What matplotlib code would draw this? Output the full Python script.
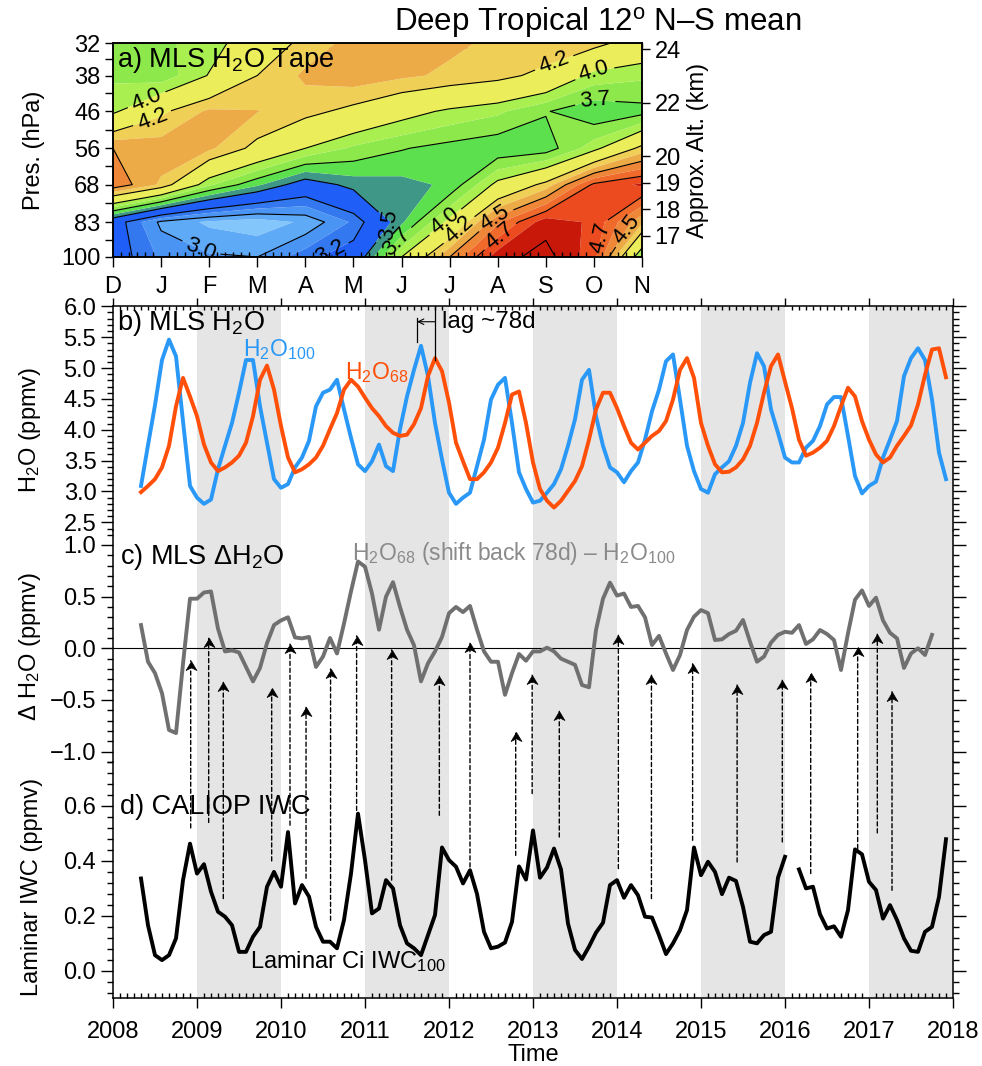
import numpy as np
import matplotlib
matplotlib.use('Agg')
import matplotlib.pyplot as plt
from matplotlib.patches import ConnectionPatch
from matplotlib.path import Path
from matplotlib.ticker import MultipleLocator, FixedLocator, NullLocator, NullFormatter, FuncFormatter

plt.rcParams['font.family'] = ['Liberation Sans', 'DejaVu Sans']
plt.rcParams['mathtext.fontset'] = 'custom'
plt.rcParams['mathtext.rm'] = 'Liberation Sans'
plt.rcParams['mathtext.it'] = 'Liberation Sans:italic'
plt.rcParams['mathtext.default'] = 'regular'

# === a) tape recorder: monthly climatology (ppmv) ===
month_labels = ['D', 'J', 'F', 'M', 'A', 'M', 'J', 'J', 'A', 'S', 'O', 'N']
pres_levels = [100, 83, 68, 56, 46, 38, 32]
tape_100 = [3.35, 3.10, 3.02, 3.00, 3.20, 3.35, 4.00, 4.50, 4.95, 5.05, 4.80, 3.85]
tape_83 = [3.35, 2.97, 2.85, 2.80, 2.90, 3.15, 3.60, 4.05, 4.60, 4.95, 4.85, 4.40]
tape_68 = [4.60, 4.35, 3.90, 3.65, 3.40, 3.55, 3.58, 3.65, 4.05, 4.30, 4.78, 4.90]
tape_56 = [4.50, 4.45, 4.40, 4.20, 4.00, 3.85, 3.76, 3.70, 3.65, 3.68, 3.95, 4.30]
tape_46 = [3.97, 4.22, 4.40, 4.38, 4.30, 4.20, 4.07, 3.97, 3.90, 3.76, 3.65, 3.70]
tape_38 = [3.85, 3.80, 4.01, 4.25, 4.40, 4.45, 4.40, 4.35, 4.30, 4.20, 3.95, 3.90]
tape_32 = [3.80, 3.85, 3.93, 4.12, 4.30, 4.42, 4.42, 4.40, 4.35, 4.35, 4.30, 4.15]
alt_km = [17, 18, 19, 20, 22, 24]
scale_height = 7.04  # km, for the approximate altitude axis

fill_levels = [2.5, 2.875, 3.0, 3.125, 3.25, 3.5, 3.625, 3.75, 3.875, 4.0,
               4.25, 4.375, 4.5, 4.625, 4.75, 4.875, 5.5]
fill_colors = ['#82c6fb', '#5eaaf7', '#4a94f3', '#3478f0', '#1f5ff7', '#3f9787',
               '#5de04d', '#8de84b', '#a8ef4f', '#ebee5a', '#efcf55', '#ecab47',
               '#ee8838', '#ef6a2b', '#ec4b1f', '#c8180a']
line_levels = [3.0, 3.25, 3.5, 3.75, 4.0, 4.25, 4.5, 4.75, 5.0]
# where the contour labels sit (month index, hPa)
label_month = [0.73, 0.83, 1.81, 4.45, 5.8, 5.86, 6.97, 7.26, 7.94, 7.98, 10.06, 10.54, 9.19, 10.0, 10.02]
label_pres = [44.0, 48.2, 96.9, 94.0, 85.7, 91.3, 84.3, 88.0, 81.2, 87.5, 89.9, 84.3, 35.9, 36.9, 43.8]

# === b-d) monthly series, May 2008 .. Dec 2017 ===
first_month = 4  # months after Jan 2008
h2o_100 = [3.09, 3.75, 4.40, 5.13, 5.46, 5.19, 4.14, 3.09,
           2.90, 2.80, 2.87, 3.36, 3.74, 4.11, 4.60, 5.13, 5.13, 4.38, 3.79, 3.20,
           3.06, 3.12, 3.39, 3.55, 3.82, 4.38, 4.60, 4.65, 4.81, 4.33, 3.87, 3.44,
           3.33, 3.49, 3.76, 3.41, 3.33, 4.01, 4.54, 4.97, 5.36, 4.87, 4.11, 3.52,
           2.98, 2.80, 2.90, 2.98, 3.41, 3.84, 4.49, 4.73, 4.84, 4.11, 3.31, 3.04,
           2.82, 2.85, 2.98, 3.12, 3.36, 3.74, 4.17, 4.81, 4.97, 4.22, 3.74, 3.39,
           3.31, 3.15, 3.33, 3.47, 3.84, 4.30, 4.65, 5.11, 5.22, 4.49, 3.74, 3.33,
           3.04, 2.98, 3.28, 3.39, 3.49, 3.74, 4.11, 4.76, 5.24, 5.03, 4.33, 3.95,
           3.55, 3.47, 3.47, 3.71, 3.82, 4.06, 4.41, 4.53, 4.53, 3.90, 3.25, 2.97,
           3.09, 3.16, 3.55, 3.84, 4.14, 4.87, 5.16, 5.32, 5.13, 4.49, 3.63, 3.20]
h2o_68 = [2.99, 3.09, 3.20, 3.39, 3.74, 4.38, 4.84, 4.54,
          4.22, 3.76, 3.47, 3.33, 3.39, 3.47, 3.58, 3.79, 4.22, 4.81, 5.04, 4.65,
          4.06, 3.55, 3.31, 3.36, 3.44, 3.55, 3.74, 4.01, 4.27, 4.65, 4.81, 4.70,
          4.52, 4.35, 4.22, 4.06, 3.95, 3.90, 3.92, 4.09, 4.35, 4.87, 5.16, 4.95,
          4.44, 3.79, 3.49, 3.20, 3.20, 3.31, 3.47, 3.71, 4.11, 4.57, 4.62, 4.11,
          3.47, 3.04, 2.85, 2.74, 2.85, 3.01, 3.17, 3.41, 3.84, 4.33, 4.60, 4.60,
          4.35, 4.06, 3.79, 3.68, 3.79, 3.90, 3.98, 4.14, 4.49, 4.97, 5.16, 4.84,
          4.11, 3.74, 3.44, 3.31, 3.32, 3.39, 3.52, 3.74, 4.11, 4.60, 5.03, 5.22,
          4.78, 4.35, 3.84, 3.58, 3.63, 3.71, 3.82, 4.06, 4.38, 4.68, 4.54, 4.14,
          3.84, 3.60, 3.47, 3.55, 3.74, 3.90, 4.07, 4.41, 4.89, 5.30, 5.32, 4.85]
dh2o = [0.225, -0.13, -0.24, -0.435, -0.79, -0.82, -0.15, 0.48,
        0.48, 0.54, 0.55, 0.19, -0.03, -0.02, -0.04, -0.18, -0.32, -0.19, 0.05, 0.225,
        0.27, 0.30, 0.105, 0.096, 0.11, -0.18, -0.08, 0.10, -0.05, 0.24, 0.55, 0.84,
        0.79, 0.53, 0.18, 0.50, 0.64, 0.40, 0.18, 0.03, -0.32, -0.145, -0.03, 0.11,
        0.34, 0.40, 0.35, 0.41, 0.18, -0.03, -0.13, -0.13, -0.45, -0.24, -0.055, -0.12,
        -0.03, -0.03, 0.006, -0.03, -0.10, -0.13, -0.16, -0.355, -0.377, 0.177, 0.48, 0.635,
        0.51, 0.53, 0.40, 0.41, 0.30, 0.032, 0.12, -0.05, -0.21, -0.065, 0.177, 0.306,
        0.37, 0.34, 0.08, 0.087, 0.138, 0.17, 0.274, 0.064, -0.13, -0.08, 0.055, 0.13,
        0.16, 0.15, 0.225, 0.042, 0.087, 0.177, 0.138, 0.08, -0.21, 0.145, 0.47, 0.56,
        0.41, 0.49, 0.27, 0.15, 0.096, -0.19, -0.05, 0.0, -0.065, 0.13]
iwc = [0.336, 0.166, 0.057, 0.039, 0.057, 0.118, 0.33, 0.463,
       0.354, 0.388, 0.288, 0.215, 0.197, 0.166, 0.069, 0.069, 0.124, 0.160, 0.306, 0.36,
       0.306, 0.505, 0.245, 0.312, 0.27, 0.16, 0.106, 0.106, 0.082, 0.185, 0.354, 0.572,
       0.403, 0.209, 0.227, 0.33, 0.30, 0.166, 0.10, 0.082, 0.057, 0.13, 0.203, 0.449,
       0.403, 0.379, 0.318, 0.366, 0.28, 0.142, 0.082, 0.088, 0.103, 0.178, 0.38, 0.332,
       0.511, 0.339, 0.376, 0.445, 0.369, 0.172, 0.076, 0.043, 0.088, 0.139, 0.175, 0.312,
       0.33, 0.266, 0.312, 0.275, 0.197, 0.194, 0.130, 0.061, 0.1, 0.148, 0.221, 0.449,
       0.348, 0.397, 0.36, 0.279, 0.339, 0.327, 0.233, 0.106, 0.1, 0.13, 0.142, 0.339,
       0.415, np.nan, 0.369, 0.3, 0.306, 0.206, 0.154, 0.162, 0.124, 0.221, 0.442, 0.424,
       0.324, 0.294, 0.19, 0.239, 0.185, 0.118, 0.073, 0.069, 0.142, 0.160, 0.269, 0.479]

# dashed arrows: time, arrow tip (delta H2O, ppmv), line base (IWC, ppmv)
arrow_time = [2008.925, 2009.139, 2009.313, 2009.889, 2010.107, 2010.298, 2010.59,
              2010.90, 2011.317, 2011.885, 2012.25, 2012.794, 2012.99, 2013.313,
              2014.016, 2014.41, 2014.90, 2015.43, 2015.968, 2016.306, 2016.865,
              2017.099, 2017.274]
arrow_tip = [-0.12, 0.097, -0.33, -0.387, 0.04, -0.565, -0.2, 0.12, -0.016, -0.27,
             0.048, -0.81, -0.26, -0.61, 0.13, -0.26, -0.15, -0.355, -0.31, -0.24,
             0.01, 0.138, -0.42]
arrow_base = [0.52, 0.54, 0.263, 0.40, 0.53, 0.337, 0.184, 0.584, 0.33, 0.566, 0.378,
              0.42, 0.645, 0.487, 0.372, 0.263, 0.475, 0.396, 0.469, 0.354, 0.445,
              0.502, 0.293]

lag_days = 78
lag_peak = 2011.833  # H2O_68 peak used to mark the lag
shade_years = [2009, 2011, 2013, 2015, 2017]

blue = '#2a98f7'
orange = '#ff4f08'
grey = '#707070'
fs = 17      # tick labels / axis titles
fs_panel = 19.5

fig = plt.figure(figsize=(9.82, 10.66), dpi=100)
W, H = 982.0, 1066.0


def box(x0, y0, x1, y1):
    return [x0 / W, 1 - y1 / H, (x1 - x0) / W, (y1 - y0) / H]


def minus_fmt(v, pos):
    return f'{v:.1f}'.replace('-', '\u2212')


ax_a = fig.add_axes(box(113, 43.3, 642, 257))
ax_b = fig.add_axes(box(113, 306.3, 953, 531))
ax_c = fig.add_axes(box(113, 531, 953, 762))
ax_d = fig.add_axes(box(113, 762, 953, 998.3))

# --- panel a ---
tape = np.array([tape_100, tape_83, tape_68, tape_56, tape_46, tape_38, tape_32])
mx = np.arange(len(month_labels))
ax_a.contourf(mx, pres_levels, tape, levels=fill_levels, colors=fill_colors, antialiased=True)
cs = ax_a.contour(mx, pres_levels, tape, levels=line_levels, colors='k', linewidths=0.8)
ax_a.set_yscale('log')
ax_a.set_ylim(100, 32)
ax_a.set_xlim(0, 11)
ax_a.clabel(cs, fmt=lambda v: f'{np.floor(v * 10 + 1e-6) / 10:.1f}', fontsize=16, inline=True,
            manual=list(zip(label_month, label_pres)))
ax_a.set_yticks(pres_levels)
ax_a.set_yticklabels([str(p) for p in pres_levels])
ax_a.yaxis.set_minor_locator(FixedLocator(np.sqrt(np.array(pres_levels[:-1]) * np.array(pres_levels[1:]))))
ax_a.yaxis.set_minor_formatter(NullFormatter())
ax_a.set_xticks(mx)
ax_a.set_xticklabels(month_labels)
ax_a.xaxis.set_minor_locator(MultipleLocator(1 / 6))
ax_a.tick_params(axis='x', which='major', direction='out', length=7, width=1, top=False, labelsize=fs, pad=7)
ax_a.tick_params(axis='x', which='minor', direction='in', length=3.5, width=1, top=False)
ax_a.tick_params(axis='y', which='major', direction='out', length=6, width=1, labelsize=fs, pad=3)
ax_a.tick_params(axis='y', which='minor', direction='out', length=6, width=1)
sec = ax_a.secondary_xaxis('top')
sec.set_xticks(mx)
sec.xaxis.set_minor_locator(MultipleLocator(1 / 6))
sec.xaxis.set_major_formatter(NullFormatter())
sec.tick_params(axis='x', which='both', direction='in', length=3.5, width=1)
ax_a.set_ylabel('Pres. (hPa)', fontsize=fs)
ax_a.yaxis.set_label_coords(-0.128, 0.5)
ax_a.text(0.008, 0.922, r'a) MLS H$_2$O Tape', transform=ax_a.transAxes, fontsize=fs_panel, va='center', ha='left')

ax_alt = ax_a.twinx()
ax_alt.set_yscale('log')
ax_alt.set_ylim(100, 32)
ax_alt.set_yticks(1000 * np.exp(-np.array(alt_km) / scale_height))
ax_alt.set_yticklabels([str(z) for z in alt_km])
ax_alt.yaxis.set_minor_locator(NullLocator())
ax_alt.tick_params(axis='y', direction='out', length=6, width=1, labelsize=fs, pad=3)
ax_alt.set_ylabel('Approx. Alt. (km)', fontsize=fs)
ax_alt.yaxis.set_label_coords(1.085, 0.5)

for ax in (ax_a, ax_alt):
    for s in ax.spines.values():
        s.set_linewidth(1.1)

# --- panels b, c, d ---
t = 2008 + (first_month + np.arange(len(h2o_100))) / 12.0
t_d = 2008 + (first_month + np.arange(len(dh2o))) / 12.0

for ax in (ax_b, ax_c, ax_d):
    for y in shade_years:
        ax.axvspan(y, y + 1, color='#e5e5e5', lw=0, zorder=0)
    ax.set_xlim(2008, 2018)
    ax.xaxis.set_major_locator(MultipleLocator(1))
    ax.xaxis.set_minor_locator(MultipleLocator(1 / 12))
    ax.tick_params(axis='y', which='major', direction='out', length=9, width=1,
                   left=True, right=True, labelsize=fs, pad=3)
    ax.tick_params(axis='y', which='minor', direction='out', length=4.5, width=1, left=True, right=True)
    for s in ax.spines.values():
        s.set_linewidth(1.1)
    ax.yaxis.set_major_formatter(FuncFormatter(minus_fmt))

ax_b.spines['bottom'].set_visible(False)
ax_c.spines['top'].set_visible(False)
ax_c.spines['bottom'].set_visible(False)
ax_d.spines['top'].set_visible(False)

ax_b.xaxis.set_ticks_position('top')
ax_b.tick_params(axis='x', which='major', direction='out', length=6, width=1, labeltop=False, labelbottom=False)
ax_b.tick_params(axis='x', which='minor', direction='in', length=3, width=1)
ax_c.tick_params(axis='x', which='both', bottom=False, top=False, labelbottom=False)
ax_d.tick_params(axis='x', which='major', direction='out', length=7, width=1, top=False, labelsize=fs, pad=9.5)
ax_d.tick_params(axis='x', which='minor', direction='in', length=3.5, width=1, top=False)
ax_d.xaxis.set_major_formatter(FuncFormatter(lambda v, p: f'{v:.0f}'))

# b) H2O
ax_b.plot(t, h2o_100, color=blue, lw=2.8, zorder=3)
ax_b.plot(t, h2o_68, color=orange, lw=2.8, zorder=3)
ax_b.set_ylim(2.36, 6.0)
ax_b.yaxis.set_major_locator(MultipleLocator(0.5))
ax_b.yaxis.set_minor_locator(MultipleLocator(0.1))
ax_b.set_ylabel(r'H$_2$O (ppmv)', fontsize=fs)
ax_b.yaxis.set_label_coords(-0.083, 0.45)
ax_b.text(0.005, 0.926, r'b) MLS H$_2$O', transform=ax_b.transAxes, fontsize=fs_panel, va='center', ha='left')
ax_b.text(2009.548, 5.30, r'H$_2$O$_{100}$', color=blue, fontsize=16.5, va='center', ha='left')
ax_b.text(2010.762, 4.92, r'H$_2$O$_{68}$', color=orange, fontsize=16.5, va='center', ha='left')
lag_left = lag_peak - lag_days / 365.25
ax_b.plot([lag_left, lag_left], [5.81, 5.42], color='k', lw=0.9, zorder=4)
ax_b.plot([lag_peak, lag_peak], [6.0, 5.13], color='k', lw=0.9, zorder=4)
ax_b.annotate('', xy=(lag_left, 5.75), xytext=(lag_peak, 5.75),
              arrowprops=dict(arrowstyle='->', color='k', lw=0.8, shrinkA=0, shrinkB=0))
ax_b.text(lag_peak + 0.085, 5.75, 'lag ~78d', fontsize=17.5, va='center', ha='left')

# c) delta H2O
ax_c.axhline(0, color='k', lw=0.8, zorder=2)
ax_c.plot(t_d, dh2o, color=grey, lw=2.8, zorder=3)
ax_c.set_ylim(-1.1, 1.135)
ax_c.yaxis.set_major_locator(MultipleLocator(0.5))
ax_c.yaxis.set_minor_locator(MultipleLocator(0.1))
ax_c.set_ylabel(r'Δ H$_2$O (ppmv)', fontsize=fs)
ax_c.yaxis.set_label_coords(-0.083, 0.5)
ax_c.text(0.008, 0.889, r'c) MLS ΔH$_2$O', transform=ax_c.transAxes, fontsize=fs_panel, va='center', ha='left')
ax_c.text(2010.845, 0.92, r'H$_2$O$_{68}$ (shift back 78d) – H$_2$O$_{100}$', color='#8a8a8a',
          fontsize=16.5, va='center', ha='left')

# d) IWC
ax_d.plot(t, iwc, color='k', lw=2.8, zorder=3)
ax_d.set_ylim(-0.1, 0.76)
ax_d.yaxis.set_major_locator(MultipleLocator(0.2))
ax_d.yaxis.set_minor_locator(MultipleLocator(0.04))
ax_d.set_ylabel('Laminar IWC (ppmv)', fontsize=fs)
ax_d.yaxis.set_label_coords(-0.083, 0.47)
ax_d.text(0.008, 0.811, 'd) CALIOP IWC', transform=ax_d.transAxes, fontsize=fs_panel, va='center', ha='left')
ax_d.text(2009.631, 0.032, r'Laminar Ci IWC$_{100}$', fontsize=17, va='center', ha='left')

# dashed arrows from IWC peaks (d) up to delta H2O (c)
head = Path([(0, 0), (-0.6, -1.0), (0, -0.7), (0.6, -1.0), (0, 0)],
            [Path.MOVETO, Path.LINETO, Path.LINETO, Path.LINETO, Path.CLOSEPOLY])
for ta, tip, base in zip(arrow_time, arrow_tip, arrow_base):
    con = ConnectionPatch(xyA=(ta, base), coordsA='data', axesA=ax_d,
                          xyB=(ta, tip), coordsB='data', axesB=ax_c,
                          color='k', lw=1.0, linestyle=(0, (3, 2)))
    fig.add_artist(con)
    ax_c.plot([ta], [tip], marker=head, ms=13, color='k', mec='k', mew=0.5, zorder=5, clip_on=False)

fig.text(533 / W, 1 - 1055 / H, 'Time', fontsize=fs, ha='center', va='center')
fig.text(598 / W, 1 - 22 / H, r'Deep Tropical 12$^{o}$ N–S mean', fontsize=22.5, ha='center', va='center')

fig.savefig('out.png', dpi=100)
